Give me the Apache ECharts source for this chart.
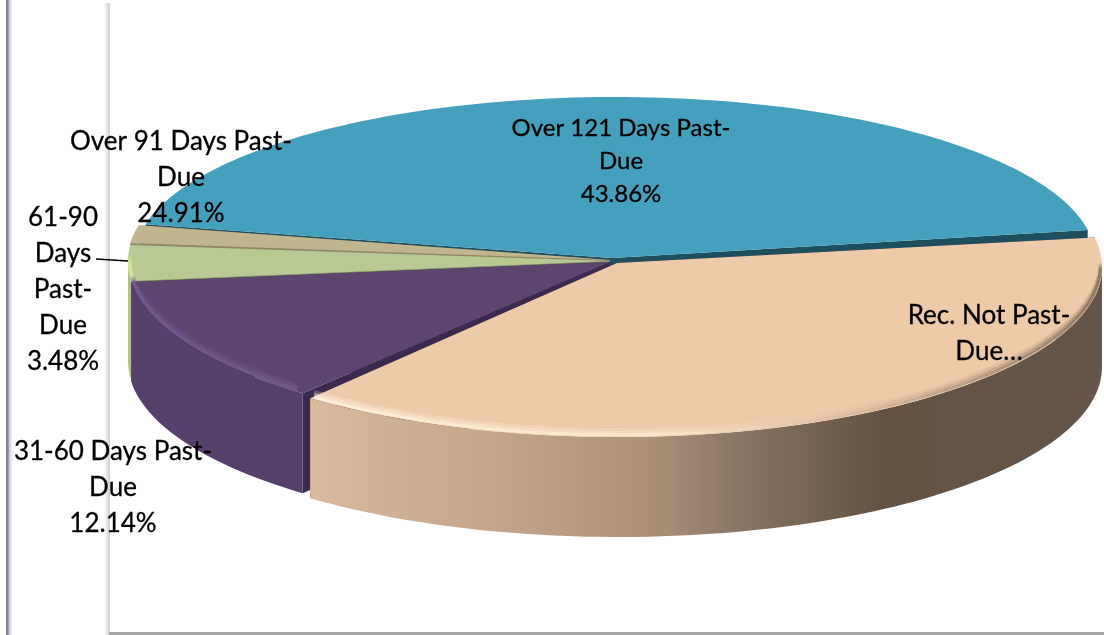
<!DOCTYPE html>
<html>
<head>
<meta charset="utf-8">
<title>Receivables aging</title>
<script src="https://cdn.jsdelivr.net/npm/echarts@6/dist/echarts.min.js"></script>
<style>
  html, body { margin: 0; padding: 0; background: #fff; }
  #chart { width: 1104px; height: 635px; }
</style>
</head>
<body>
<div id="chart"></div>
<script>
// chart data, clockwise from the first slice
const categories = ['Rec. Not Past-Due', '31-60 Days Past-Due', '61-90 Days Past-Due', 'Over 91 Days Past-Due', 'Over 121 Days Past-Due'];
// share of the pie each slice really covers
const sliceShares = [38.75, 12.14, 3.48, 1.77, 43.86];
// the labels as printed (they do not all agree with the drawn slices)
const labelTexts = ['Rec. Not Past-\nDue…', '31-60 Days Past-\nDue\n12.14%', '61-90\nDays\nPast-\nDue\n3.48%', 'Over 91 Days Past-\nDue\n24.91%', 'Over 121 Days Past-\nDue\n43.86%'];

// layout and look, in canvas pixels
const firstAngle = -10;
const depth = 100;
const sliceLook = [
  { cx: 618, cy: 267, ax: 617, ay: 263, rx: 484, ryBack: 170, ryFront: 170, top: '#efcaa9', cut: '#3b2a4d',
    wall: [[0, '#dab99d'], [0.24, '#c4a588'], [0.45, '#a88d76'], [0.55, '#877361'], [0.72, '#645342'], [1, '#65554a']],
    bevel: [[0, '#fff3df'], [0.45, '#fde8cc'], [0.7, '#d8b698'], [1, '#8a735e']] },
  { cx: 608, cy: 262, ax: 610, ay: 262, rx: 480, ryBack: 161, ryFront: 170, top: '#5d4570', cut: '#3b2a4d',
    wall: [[0, '#54406a'], [1, '#54406a']], bevel: [[0, '#73598f'], [1, '#73598f']] },
  { cx: 608, cy: 261, ax: 610, ay: 261, rx: 480, ryBack: 161, ryFront: 170, top: '#b9c994', cut: '#7f8a62',
    wall: [[0, '#b4c08c'], [1, '#b4c08c']], bevel: [[0, '#d5e39f'], [1, '#d5e39f']] },
  { cx: 608, cy: 259, ax: 610, ay: 260, rx: 480, ryBack: 161, ryFront: 170, top: '#c1b58e', cut: '#8f8666',
    wall: [[0, '#a89d7a'], [1, '#a89d7a']], bevel: [[0, '#cfc39c'], [1, '#cfc39c']] },
  { cx: 615, cy: 258, ax: 612, ay: 258, rx: 480, ryBack: 161, ryFront: 170, top: '#45a0bd', cut: '#1d4f5f',
    wall: [[0, '#2b6c80'], [1, '#2b6c80']], bevel: null }
];
const labelSpots = [[989, 334], [113, 488], [63, 290], [181, 178], [621, 161]];
const labelSizes = [26, 26, 26, 26, 24];
const labelLeading = [36, 36, 36, 36, 33];
const leaderLine = [[96, 259], [128, 261]];

// start and end angle of each slice from the shares
const total = sliceShares.reduce((a, b) => a + b, 0);
const sweeps = [];
let running = firstAngle;
sliceShares.forEach(v => {
  const next = running + v / total * 360;
  sweeps.push([running, next]);
  running = next;
});

function rimPoint(look, deg, drop, inset) {
  const rad = deg * Math.PI / 180;
  const sin = Math.sin(rad);
  return [
    look.cx + look.rx * inset * Math.cos(rad),
    look.cy + (sin < 0 ? look.ryBack : look.ryFront) * inset * sin + drop
  ];
}

function rimArc(look, from, to, drop, inset) {
  const pts = [];
  const steps = Math.max(2, Math.ceil(Math.abs(to - from) / 1.5));
  for (let i = 0; i <= steps; i++) {
    pts.push(rimPoint(look, from + (to - from) * i / steps, drop, inset));
  }
  return pts;
}

function gradient(stops) {
  return new echarts.graphic.LinearGradient(0, 0, 1, 0, stops.map(s => ({ offset: s[0], color: s[1] })));
}

function renderSlice(params, api) {
  const i = api.value(0);
  const look = sliceLook[i];
  const a0 = sweeps[i][0];
  const a1 = sweeps[i][1];
  const toPx = pts => pts.map(p => api.coord(p));
  const children = [];
  const poly = (pts, fill) => children.push({ type: 'polygon', silent: true, shape: { points: toPx(pts) }, style: { fill: fill } });

  // cut faces below the two straight edges
  [a0, a1].forEach(a => {
    const p = rimPoint(look, a, 0, 1);
    poly([[look.ax, look.ay], p, [p[0], p[1] + depth], [look.ax, look.ay + depth]], look.cut);
  });

  // outer wall, only the part that faces the viewer
  const from = Math.max(a0, 0);
  const to = Math.min(a1, 180);
  if (to > from) {
    const upper = rimArc(look, from, to, 0, 1);
    const lower = rimArc(look, to, from, depth, 1);
    poly(upper.concat(lower), gradient(look.wall));
  }

  // top face
  poly([[look.ax, look.ay]].concat(rimArc(look, a0, a1, 0, 1)), look.top);

  // soft bevel along the front rim, lifted instead of scaled so it keeps its width
  if (look.bevel && to > from) {
    [[-6.5, 4, 0.25], [-4, 3, 0.5], [-1.5, 3, 0.9]].forEach(b => {
      children.push({
        type: 'polyline', silent: true,
        shape: { points: toPx(rimArc(look, from + 1, to - 0.5, b[0], 0.997)) },
        style: { fill: null, stroke: gradient(look.bevel), lineWidth: b[1], opacity: b[2] }
      });
    });
  }
  return { type: 'group', children: children };
}

function renderLabel(params, api) {
  const i = api.value(0);
  const spot = api.coord(labelSpots[i]);
  return {
    type: 'text', silent: true, x: spot[0], y: spot[1],
    style: {
      text: labelTexts[i], fill: '#000', stroke: '#000', lineWidth: 0.3,
      font: labelSizes[i] + 'px Lato', lineHeight: labelLeading[i],
      textAlign: 'center', textVerticalAlign: 'middle'
    }
  };
}

const chart = echarts.init(document.getElementById('chart'), null, { renderer: 'canvas' });
chart.setOption({
  animation: false,
  backgroundColor: '#fff',
  grid: { left: 0, right: 0, top: 0, bottom: 0 },
  xAxis: { type: 'value', min: 0, max: 1104, show: false },
  yAxis: { type: 'value', min: 0, max: 635, inverse: true, show: false },
  graphic: [
    { type: 'rect', silent: true, shape: { x: 6, y: 0, width: 7, height: 635 },
      style: { fill: new echarts.graphic.LinearGradient(0, 0, 1, 0, [{ offset: 0, color: '#8a849e' }, { offset: 0.28, color: '#8a849e' }, { offset: 0.5, color: '#cfcdd6' }, { offset: 1, color: '#ffffff' }]) } },
    { type: 'rect', silent: true, shape: { x: 104, y: 3, width: 6, height: 632 },
      style: { fill: new echarts.graphic.LinearGradient(0, 0, 1, 0, [{ offset: 0, color: '#ffffff' }, { offset: 1, color: '#cdcdcd' }]) } },
    { type: 'rect', silent: true, shape: { x: 109, y: 632, width: 995, height: 3 }, style: { fill: '#a6a6a6' } }
  ],
  series: [
    {
      type: 'custom',
      name: 'pie',
      coordinateSystem: 'cartesian2d',
      clip: false,
      silent: true,
      // back slices first so the front ones overlap them
      data: categories.map((c, i) => [categories.length - 1 - i, 0]),
      renderItem: renderSlice
    },
    {
      type: 'line',
      name: 'leader',
      silent: true,
      symbol: 'none',
      z: 3,
      lineStyle: { color: '#000', width: 1.5 },
      data: leaderLine
    },
    {
      type: 'custom',
      name: 'labels',
      coordinateSystem: 'cartesian2d',
      clip: false,
      silent: true,
      z: 5,
      data: categories.map((c, i) => [i, 0]),
      renderItem: renderLabel
    }
  ]
});
</script>
</body>
</html>
